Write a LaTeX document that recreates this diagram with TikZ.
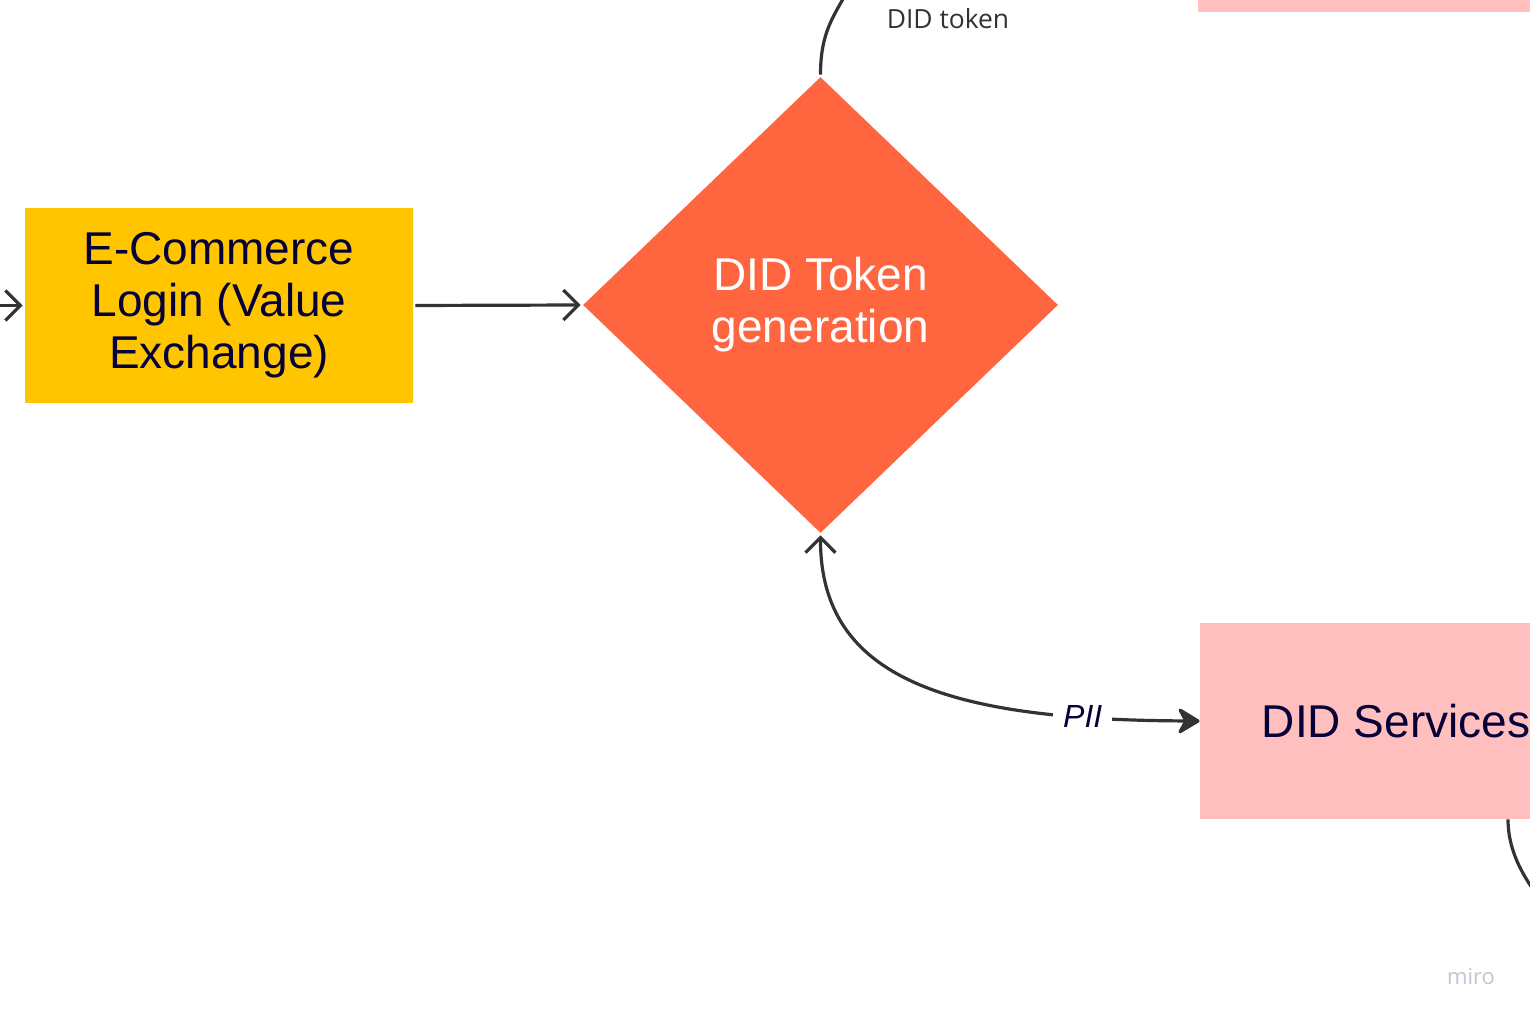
\documentclass[tikz,border=0pt]{standalone}
\usepackage{fontspec}
\setmainfont{Liberation Sans}
\newfontfamily\opensans{Open Sans}
\usetikzlibrary{arrows.meta,shapes.geometric}
\definecolor{cyellow}{HTML}{FFC600}
\definecolor{corange}{HTML}{FF653E}
\definecolor{cpink}{HTML}{FFBFBF}
\definecolor{cline}{HTML}{333333}
\definecolor{cnavy}{HTML}{050038}
\definecolor{cwater}{HTML}{C4C4D2}
\tikzset{
  bigtext/.style={font=\fontsize{23}{26}\selectfont, align=center},
  boxyellow/.style={rectangle, fill=cyellow, draw=none, minimum width=194pt, minimum height=97.5pt, inner sep=0pt, bigtext, text=cnavy},
  boxpink/.style={rectangle, fill=cpink, draw=none, minimum width=196pt, minimum height=98pt, inner sep=0pt, bigtext, text=cnavy},
  decision/.style={diamond, fill=corange, draw=none, minimum width=237.5pt, minimum height=228pt, inner sep=0pt, bigtext, text=white},
  conn/.style={draw=cline, line width=1.6pt},
  opentip/.style={-{Straight Barb[length=7.5pt,width=15pt,line width=1.6pt]}},
  lbl/.style={font=\opensans\fontsize{13.2}{15}\selectfont, text=cline},
}
\begin{document}
\begin{tikzpicture}[x=0.5pt,y=-0.5pt]
\useasboundingbox (0,0) rectangle (1530,1020);
\clip (0,0) rectangle (1530,1020);
\fill[white] (0,0) rectangle (1530,1020);
% nodes
\node[boxyellow] (ecom) at (219,305.5) {E-Commerce\\Login (Value\\Exchange)};
\node[decision] (diam) at (820.5,305) {DID Token\\generation};
\node[boxpink] (dids) at (1396,721) {DID Services};
\node[rectangle, fill=cpink, minimum width=170pt, minimum height=100pt, inner sep=0pt, anchor=south west] (topbox) at (1198,12) {};
% free ends
\coordinate (lin) at (-4,305.5);
\coordinate (topend) at (848,-10);
\coordinate (brstart) at ([xshift=56pt]dids.south);
\coordinate (brend) at (1545,905);
% connectors
\draw[conn, opentip, shorten >=1pt] (lin) -- (ecom.west);
\draw[conn, opentip, shorten <=1pt, shorten >=1pt] (ecom.east) -- (diam.west);
\draw[conn, shorten <=1pt] (diam.north) .. controls +(0,-45) and +(-14,26) .. (topend);
\node[lbl] (toklbl) at (948,19) {DID token};
\draw[conn, {Straight Barb[length=7.5pt,width=15pt,line width=1.6pt]}-{Stealth[length=12.5pt,width=15pt,inset=4pt,round]}, shorten <=1pt]
  (diam.south) .. controls (820,680) and (950,720) .. (dids.west)
  node[pos=0.83, fill=white, inner xsep=5pt, inner ysep=2pt, font=\itshape\fontsize{16}{18}\selectfont, text=cnavy] (pii) {PII};
\draw[conn] (brstart) .. controls +(0,35) and +(-18,-22) .. (brend);
% watermark
\node[font=\opensans\fontsize{11}{12}\selectfont, text=cwater] (miro) at (1471,977) {miro};
\end{tikzpicture}
\end{document}
